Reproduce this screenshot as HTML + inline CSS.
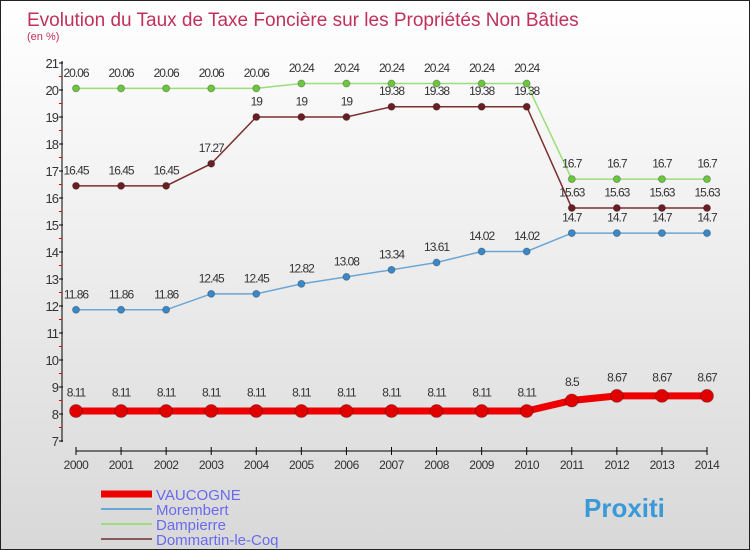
<!DOCTYPE html>
<html><head><meta charset="utf-8"><style>
body{margin:0;}
#c{width:750px;height:550px;position:relative;background:linear-gradient(#ffffff,#f4f4f4 30%,#d8d8d8);font-family:"Liberation Sans",sans-serif;overflow:hidden;box-sizing:border-box;border:1px solid #222;}
</style></head><body>
<div id="c">
<svg id="s" width="750" height="550" style="position:absolute;left:0;top:0"></svg>
</div>
<script>
const years=[2000,2001,2002,2003,2004,2005,2006,2007,2008,2009,2010,2011,2012,2013,2014];
const vaucogne=[8.11,8.11,8.11,8.11,8.11,8.11,8.11,8.11,8.11,8.11,8.11,8.5,8.67,8.67,8.67];
const morembert=[11.86,11.86,11.86,12.45,12.45,12.82,13.08,13.34,13.61,14.02,14.02,14.7,14.7,14.7,14.7];
const dampierre=[20.06,20.06,20.06,20.06,20.06,20.24,20.24,20.24,20.24,20.24,20.24,16.7,16.7,16.7,16.7];
const dommartin=[16.45,16.45,16.45,17.27,19,19,19,19.38,19.38,19.38,19.38,15.63,15.63,15.63,15.63];
const yTicks=[7,8,9,10,11,12,13,14,15,16,17,18,19,20,21];
const NS="http://www.w3.org/2000/svg";
const s=document.getElementById('s');
const x=i=>75+i*(706-75)/(years.length-1);
const y=v=>440-(v-7)*(440-62)/14;
function el(t,a,p){const e=document.createElementNS(NS,t);for(const k in a)e.setAttribute(k,a[k]);(p||s).appendChild(e);return e;}
function txt(str,a){const e=el('text',a);e.textContent=str;return e;}
const title=txt('Evolution du Taux de Taxe Foncière sur les Propriétés Non Bâties',{x:26,y:25,'font-size':19,fill:'#c0305a'});


const sub=txt('(en %)',{x:26,y:39,'font-size':11,fill:'#c0305a'});


const ya=el('line',{x1:61,y1:60,x2:61,y2:441,stroke:'#000'});


yTicks.forEach(v=>{
  el('line',{x1:58,x2:62,y1:y(v),y2:y(v),stroke:'#000'});
  if(v<21) el('line',{x1:58,x2:61,y1:y(v+0.5),y2:y(v+0.5),stroke:'#e00'});
  const t=txt(String(v),{x:57,y:y(v)+5,'font-size':13,fill:'#333','text-anchor':'end','letter-spacing':'-1'});
  
  
});
const xa=el('line',{x1:75,y1:450,x2:706,y2:450,stroke:'#000'});


years.forEach((yr,i)=>{
  el('line',{x1:x(i),x2:x(i),y1:446,y2:454,stroke:'#000'});
  const t=txt(String(yr),{x:x(i),y:468,'font-size':12,fill:'#333','text-anchor':'middle','letter-spacing':'-0.5'});
  
  
});
function series(name,data,color,dot,w,r){
  const g=el('g',{});
  
  
  el('polyline',{points:data.map((v,i)=>x(i)+','+y(v)).join(' '),fill:'none',stroke:color,'stroke-width':w},g);
  data.forEach((v,i)=>{
    const c=el('circle',{cx:x(i),cy:y(v),r:r,fill:dot,stroke:'rgba(0,0,0,0.25)','stroke-width':1},g);
    
    
    const t=txt(String(v),{x:x(i),y:y(v)-(r+8),'font-size':12,fill:'#333','text-anchor':'middle','letter-spacing':'-1'});
    
    
  });
}
series('morembert',morembert,'#6aa6d6','#3a88c8',1.5,3.5);
series('dampierre',dampierre,'#9ade7a','#6cc63e',1.5,3.5);
series('dommartin',dommartin,'#7a3030','#6a1e22',1.5,3.5);
series('vaucogne',vaucogne,'#ee0000','#e00000',7,6.5);
const leg=[['VAUCOGNE','#ee0000',7],['Morembert','#6aa6d6',2],['Dampierre','#9ade7a',2],['Dommartin-le-Coq','#8a5a5a',2]];
leg.forEach((l,i)=>{
  const yy=493+i*15;
  const g=el('g',{});
  
  
  el('line',{x1:100,x2:151,y1:yy,y2:yy,stroke:l[1],'stroke-width':l[2]},g);
  const t=el('text',{x:155,y:yy+6,'font-size':15,fill:'#6a6aee'},g);t.textContent=l[0];
});
const logo=txt('Proxiti',{x:583,y:516,'font-size':26,'font-weight':'bold',fill:'#3a9ad8'});


</script>
</body></html>
